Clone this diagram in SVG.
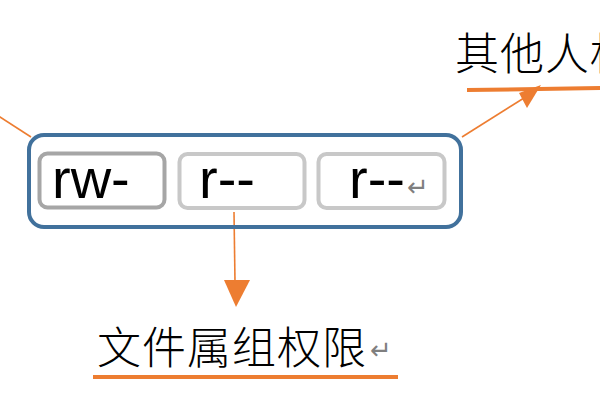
<svg xmlns="http://www.w3.org/2000/svg" width="600" height="400" viewBox="0 0 600 400">
<style>
.lat{font-family:"Liberation Sans",Arial,sans-serif;font-size:56px;fill:#000}
.cjk{font-family:"Noto Sans CJK SC","Noto Sans CJK JP",sans-serif;font-size:44px;font-weight:300;fill:#000}
.mark{font-family:"DejaVu Sans",sans-serif;font-size:26px;fill:#7F7F7F}
.conn{stroke:#ED7D31;stroke-width:1.6;fill:none}
.ul{stroke:#ED7D31;stroke-width:4;fill:none}
.head{fill:#ED7D31}
</style>
<rect width="600" height="400" fill="#fff"/>
<g id="connectors">
<line class="conn" x1="-3" y1="115" x2="31" y2="137"/>
<line class="conn" x1="462" y1="137" x2="524" y2="98"/>
<polygon class="head" points="519,93 541,85 527,108"/>
<line class="conn" x1="234" y1="212" x2="235" y2="282"/>
<polygon class="head" points="224,280 250,280 236,307"/>
</g>
<g id="perm-box">
<rect x="29" y="135" width="432" height="92" rx="15" fill="none" stroke="#41719C" stroke-width="4"/>
</g>
<g id="owner">
<rect x="39.5" y="153.5" width="125" height="54" rx="8" fill="none" stroke="#A6A6A6" stroke-width="4"/>
<text class="lat" x="52" y="198">rw-</text>
</g>
<g id="group">
<rect x="179.5" y="154" width="125" height="54" rx="8" fill="none" stroke="#C8C8C8" stroke-width="4"/>
<text class="lat" x="199" y="198">r--</text>
</g>
<g id="others">
<rect x="318.5" y="154" width="126" height="54" rx="8" fill="none" stroke="#C8C8C8" stroke-width="4"/>
<text class="lat" x="349" y="198">r--</text>
<text class="mark" x="407" y="196">↵</text>
</g>
<g id="label-others">
<text class="cjk" x="455" y="70" letter-spacing="1">其他人权限</text>
<line class="ul" x1="467" y1="90" x2="605" y2="88"/>
</g>
<g id="label-group">
<text class="cjk" x="97" y="364" letter-spacing="1">文件属组权限</text>
<text class="mark" x="370" y="359">↵</text>
<line class="ul" x1="93" y1="377" x2="398" y2="377"/>
</g>
</svg>
